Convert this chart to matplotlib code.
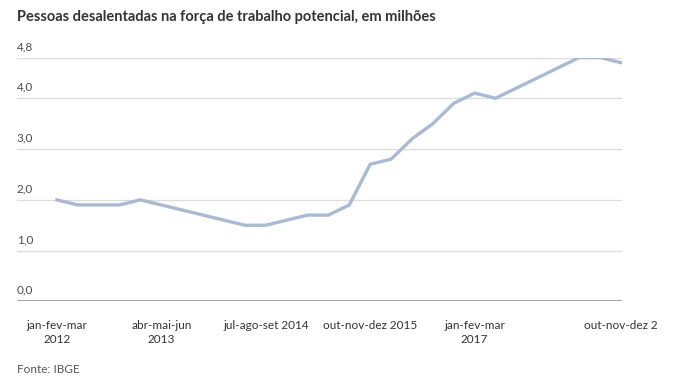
import matplotlib.pyplot as plt
import matplotlib.transforms as mtransforms

# Dados trimestrais (milhões), jan-fev-mar 2012 a out-nov-dez 2018
values = [2.0, 1.9, 1.9, 1.9, 2.0, 1.9, 1.8, 1.7, 1.6, 1.5,
          1.5, 1.6, 1.7, 1.7, 1.9, 2.7, 2.8, 3.2, 3.5, 3.9,
          4.1, 4.0, 4.2, 4.4, 4.6, 4.8, 4.8, 4.7]
tick_pos = [0, 5, 10, 15, 20, 27]
tick_labels = ['jan-fev-mar\n2012', 'abr-mai-jun\n2013', 'jul-ago-set 2014',
               'out-nov-dez 2015', 'jan-fev-mar\n2017', 'out-nov-dez 2']
y_ticks = [0.0, 1.0, 2.0, 3.0, 4.0, 4.8]
y_labels = ['0,0', '1,0', '2,0', '3,0', '4,0', '4,8']

plt.rcParams['font.family'] = ['Lato', 'DejaVu Sans']

fig = plt.figure(figsize=(6.74, 3.89), dpi=100)
ax = fig.add_axes([0.0248, 0.225, 0.898, 0.627])

x = list(range(len(values)))
ax.plot(x, values, color='#a9bbd3', linewidth=2.4, solid_joinstyle='miter', zorder=3)

ax.set_xlim(-1.92, 27.05)
ax.set_ylim(0, 4.8)

# grid
for v in y_ticks[1:]:
    ax.axhline(v, color='#dcdcdc', linewidth=0.9, zorder=1)
ax.axhline(0, color='#8c8c8c', linewidth=1.1, zorder=2)

for s in ax.spines.values():
    s.set_visible(False)

ax.set_yticks([])
trans = mtransforms.blended_transform_factory(ax.transAxes, ax.transData)
for v, lab in zip(y_ticks, y_labels):
    ax.annotate(lab, xy=(0, v), xycoords=trans, xytext=(0, 4), textcoords='offset points',
                ha='left', va='bottom', fontsize=8.5, color='#4a4a4a')

ax.set_xticks(tick_pos)
ax.set_xticklabels(tick_labels, fontsize=8.5, color='#333333', linespacing=1.35)
ax.tick_params(axis='x', length=0, pad=13)

fig.text(0.0248, 0.957, 'Pessoas desalentadas na força de trabalho potencial, em milhões',
         fontsize=10.5, fontweight='bold', color='#333333', ha='left', va='center')
fig.text(0.0248, 0.05, 'Fonte: IBGE', fontsize=8.5, color='#555555', ha='left', va='center')

fig.savefig('out.png', dpi=100)
